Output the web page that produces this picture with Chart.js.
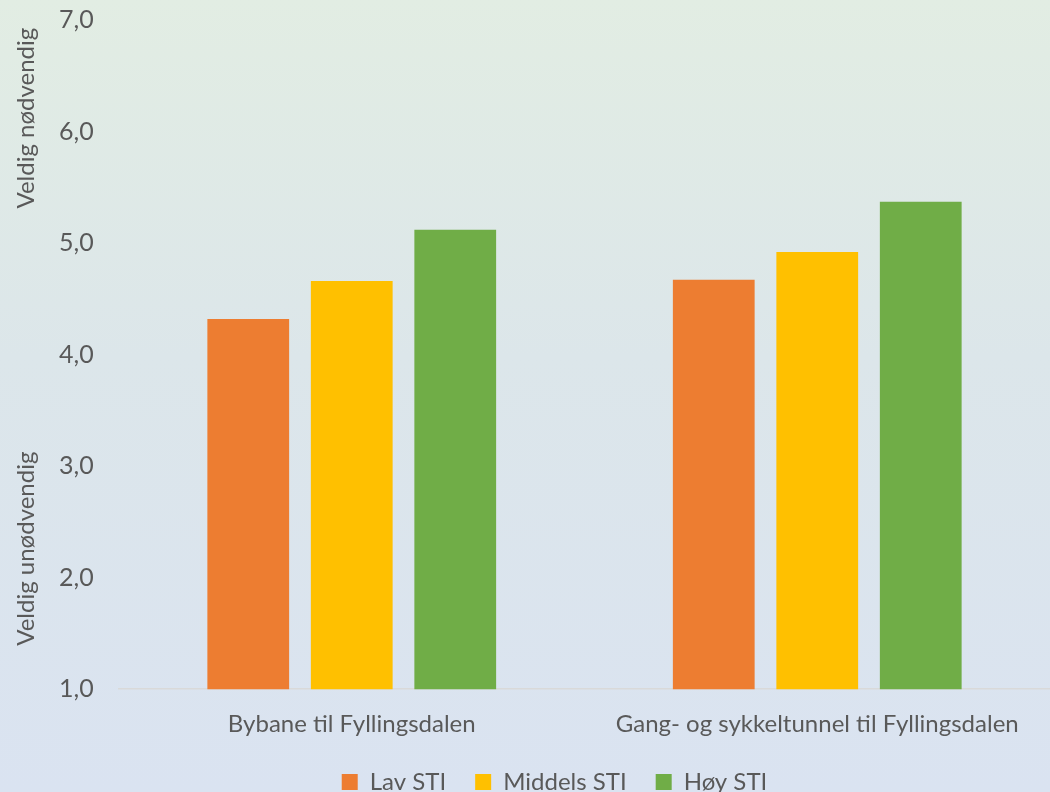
<!DOCTYPE html>
<html>
<head>
<meta charset="utf-8">
<script src="https://cdn.jsdelivr.net/npm/chart.js@4/dist/chart.umd.min.js"></script>
<style>
  html, body { margin: 0; padding: 0; }
  .chart-box { width: 1050px; height: 792px; position: relative; }
</style>
</head>
<body>
<div class="chart-box"><canvas id="chart"></canvas></div>
<script>
const categories = ['Bybane til Fyllingsdalen', 'Gang- og sykkeltunnel til Fyllingsdalen'];
const seriesNames = ['Lav STI', 'Middels STI', 'Høy STI'];
const lavValues = [4.32, 4.67];
const middelsValues = [4.66, 4.92];
const hoyValues = [5.12, 5.37];
const yTop = 'Veldig nødvendig';
const yBottom = 'Veldig unødvendig';

const colors = ['#ED7D31', '#FFC000', '#70AD47'];
const textColor = '#595959';
const fontFamily = "Lato, 'Open Sans', sans-serif";

// gradient background, green-ish on top to light blue at the bottom
const background = {
  id: 'background',
  beforeDraw(chart) {
    const ctx = chart.ctx;
    const g = ctx.createLinearGradient(0, 0, 0, chart.height);
    g.addColorStop(0, '#e2ede3');
    g.addColorStop(0.45, '#dce6ea');
    g.addColorStop(1, '#dae3f1');
    ctx.save();
    ctx.fillStyle = g;
    ctx.fillRect(0, 0, chart.width, chart.height);
    ctx.restore();
  },
};

// legend sits a bit closer to the category labels than chart.js puts it
const legendShift = {
  id: 'legendShift',
  afterLayout(chart) {
    chart.legend.top -= 11;
    chart.legend.bottom -= 11;
  },
};

// two rotated labels on the y axis
const yTitles = {
  id: 'yTitles',
  afterDraw(chart) {
    const ctx = chart.ctx;
    const y = chart.scales.y;
    ctx.save();
    ctx.fillStyle = textColor;
    ctx.font = `24px ${fontFamily}`;
    ctx.textAlign = 'center';
    ctx.textBaseline = 'middle';
    const items = [
      [yTop, y.getPixelForValue(6.12)],
      [yBottom, y.getPixelForValue(2.26)],
    ];
    for (const [text, py] of items) {
      ctx.save();
      ctx.translate(26, py);
      ctx.rotate(-Math.PI / 2);
      ctx.fillText(text, 0, 0);
      ctx.restore();
    }
    ctx.restore();
  },
};

Chart.defaults.font.family = fontFamily;
Chart.defaults.color = textColor;

new Chart(document.getElementById('chart'), {
  type: 'bar',
  data: {
    labels: categories,
    datasets: [
      { label: seriesNames[0], data: lavValues, backgroundColor: colors[0] },
      { label: seriesNames[1], data: middelsValues, backgroundColor: colors[1] },
      { label: seriesNames[2], data: hoyValues, backgroundColor: colors[2] },
    ],
  },
  options: {
    responsive: true,
    maintainAspectRatio: false,
    animation: false,
    categoryPercentage: 0.667,
    barPercentage: 0.79,
    layout: {
      padding: { left: 59, right: 0, top: 20, bottom: -23 },
    },
    plugins: {
      legend: {
        position: 'bottom',
        labels: {
          boxWidth: 16,
          boxHeight: 16,
          padding: 29,
          font: { size: 24 },
          color: textColor,
        },
      },
      tooltip: { enabled: false },
    },
    scales: {
      x: {
        grid: { display: false },
        border: { color: '#d9d9d9', width: 1.5 },
        ticks: { font: { size: 24 }, padding: 13, color: textColor },
      },
      y: {
        min: 1,
        max: 7,
        ticks: {
          stepSize: 1,
          font: { size: 25 },
          padding: 0,
          crossAlign: 'far',
          color: textColor,
          callback: (v) => v.toFixed(1).replace('.', ','),
        },
        grid: { display: false, drawTicks: false },
        border: { display: false },
        afterFit(scale) {
          scale.width = 60;
        },
      },
    },
  },
  plugins: [background, legendShift, yTitles],
});
</script>
</body>
</html>
